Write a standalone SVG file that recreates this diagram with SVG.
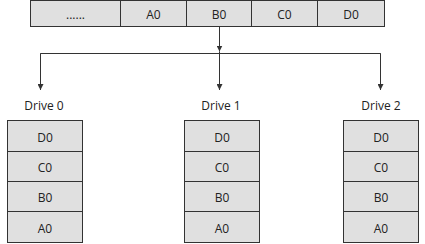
<svg xmlns="http://www.w3.org/2000/svg" width="425" height="244" viewBox="0 0 425 244">
<style>
.c{fill:#e0e0e0;stroke:#333;stroke-width:1}
.t{font-family:"Open Sans","Noto Sans","DejaVu Sans",sans-serif;font-size:12px;fill:#222;text-anchor:middle}
.l{fill:none;stroke:#333;stroke-width:1}
</style>
<defs>
<marker id="ah" viewBox="0 0 6 6" refX="6" refY="3" markerWidth="6" markerHeight="6" orient="auto" markerUnits="userSpaceOnUse">
<path d="M0,0 L6,3 L0,6 z" fill="#333"/>
</marker>
</defs>
<g id="stripe">
<rect class="c" x="30.5" y="0.5" width="354" height="26"/>
<line class="l" x1="120.5" y1="0.5" x2="120.5" y2="26.5"/>
<line class="l" x1="186.5" y1="0.5" x2="186.5" y2="26.5"/>
<line class="l" x1="251.5" y1="0.5" x2="251.5" y2="26.5"/>
<line class="l" x1="317.5" y1="0.5" x2="317.5" y2="26.5"/>
<text class="t" x="75.5" y="18.5">......</text>
<text class="t" x="153.5" y="19">A0</text>
<text class="t" x="219" y="19">B0</text>
<text class="t" x="284.5" y="19">C0</text>
<text class="t" x="351" y="19">D0</text>
</g>
<g id="connectors">
<line class="l" x1="219.5" y1="26.5" x2="219.5" y2="51.5" marker-end="url(#ah)"/>
<polyline class="l" points="40.5,89.5 40.5,53.5 380.5,53.5 380.5,89.5"/>
<line class="l" x1="40.5" y1="53.5" x2="40.5" y2="90" marker-end="url(#ah)"/>
<line class="l" x1="219.5" y1="51.5" x2="219.5" y2="90" marker-end="url(#ah)"/>
<line class="l" x1="380.5" y1="53.5" x2="380.5" y2="90" marker-end="url(#ah)"/>
</g>
<g id="drive0">
<text class="t" x="44" y="110">Drive 0</text>
<rect class="c" x="7.5" y="120.5" width="75" height="31"/>
<rect class="c" x="7.5" y="151.5" width="75" height="30"/>
<rect class="c" x="7.5" y="181.5" width="75" height="30"/>
<rect class="c" x="7.5" y="211.5" width="75" height="31"/>
<text class="t" x="45" y="141.5">D0</text>
<text class="t" x="45" y="172">C0</text>
<text class="t" x="45" y="202">B0</text>
<text class="t" x="45" y="232.5">A0</text>
</g>
<g id="drive1">
<text class="t" x="221" y="110">Drive 1</text>
<rect class="c" x="184.5" y="120.5" width="75" height="31"/>
<rect class="c" x="184.5" y="151.5" width="75" height="30"/>
<rect class="c" x="184.5" y="181.5" width="75" height="30"/>
<rect class="c" x="184.5" y="211.5" width="75" height="31"/>
<text class="t" x="222" y="141.5">D0</text>
<text class="t" x="222" y="172">C0</text>
<text class="t" x="222" y="202">B0</text>
<text class="t" x="222" y="232.5">A0</text>
</g>
<g id="drive2">
<text class="t" x="381" y="110">Drive 2</text>
<rect class="c" x="343.5" y="120.5" width="75" height="31"/>
<rect class="c" x="343.5" y="151.5" width="75" height="30"/>
<rect class="c" x="343.5" y="181.5" width="75" height="30"/>
<rect class="c" x="343.5" y="211.5" width="75" height="31"/>
<text class="t" x="381" y="141.5">D0</text>
<text class="t" x="381" y="172">C0</text>
<text class="t" x="381" y="202">B0</text>
<text class="t" x="381" y="232.5">A0</text>
</g>
</svg>
